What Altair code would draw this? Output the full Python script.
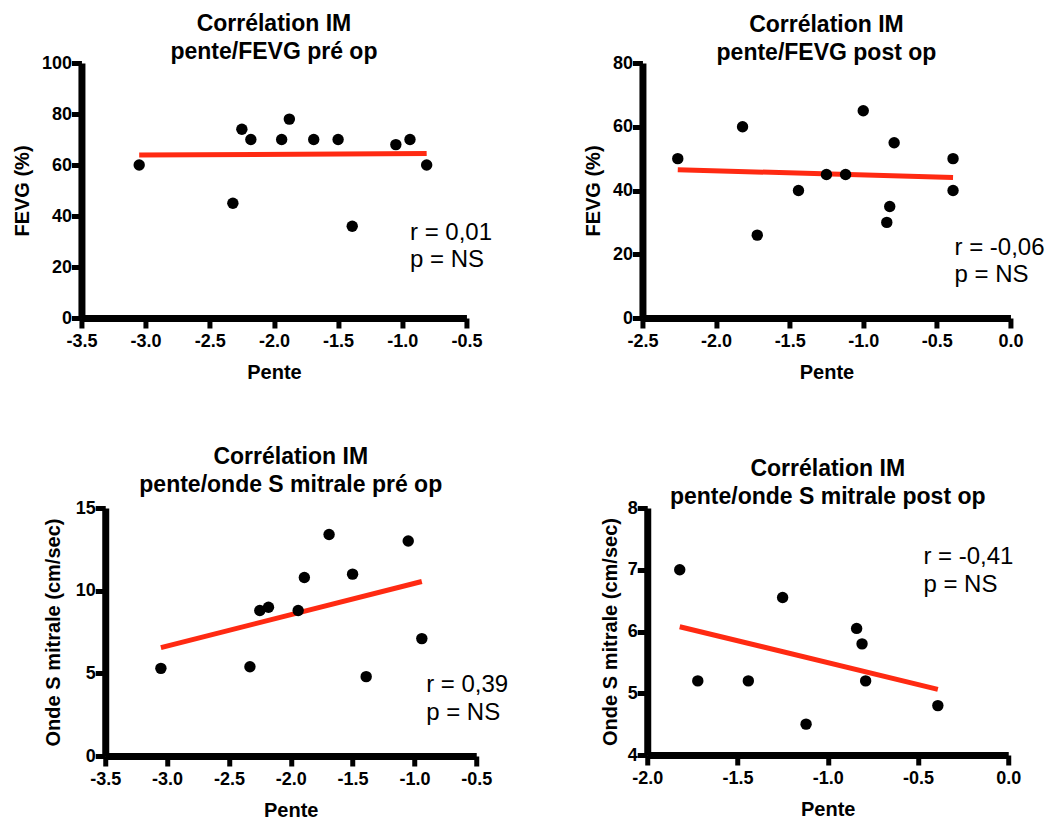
import altair as alt
import pandas as pd

FONT = "Liberation Sans"
RED = "#ff2a12"

# ---------------- data ----------------
# Panel 1: pente vs FEVG pre op
p1_pente = [-3.05, -2.32, -2.25, -2.18, -1.94, -1.88, -1.69, -1.50, -1.39, -1.05, -0.94, -0.81]
p1_fevg = [60, 45, 74, 70, 70, 78, 70, 70, 36, 68, 70, 60]
# Panel 2: pente vs FEVG post op
p2_pente = [-2.26, -1.82, -1.72, -1.44, -1.25, -1.12, -1.00, -0.84, -0.82, -0.79, -0.39, -0.39]
p2_fevg = [50, 60, 26, 40, 45, 45, 65, 30, 35, 55, 40, 50]
# Panel 3: pente vs onde S mitrale pre op
p3_pente = [-3.05, -2.33, -2.25, -2.18, -1.94, -1.89, -1.69, -1.50, -1.39, -1.05, -0.94]
p3_onde = [5.3, 5.4, 8.8, 9.0, 8.8, 10.8, 13.4, 11.0, 4.8, 13.0, 7.1]
# Panel 4: pente vs onde S mitrale post op
p4_pente = [-1.82, -1.72, -1.44, -1.25, -1.12, -0.84, -0.81, -0.79, -0.39]
p4_onde = [7.0, 5.2, 5.2, 6.55, 4.5, 6.05, 5.8, 5.2, 4.8]

titles = [
    ["Corrélation IM", "pente/FEVG pré op"],
    ["Corrélation IM", "pente/FEVG post op"],
    ["Corrélation IM", "pente/onde S mitrale pré op"],
    ["Corrélation IM", "pente/onde S mitrale post op"],
]
x_title = "Pente"
y_titles = ["FEVG (%)", "FEVG (%)", "Onde S mitrale (cm/sec)", "Onde S mitrale (cm/sec)"]
stat_lines = [["r = 0,01", "p = NS"], ["r = -0,06", "p = NS"],
              ["r = 0,39", "p = NS"], ["r = -0,41", "p = NS"]]
# where the stat text sits, in data units (x, y of each line's baseline)
stat_x = [-0.94, -0.38, -0.905, -0.47]
stat_y = [[30.5, 20.0], [19.8, 11.3], [3.85, 2.15], [7.09, 6.64]]

x_domains = [[-3.5, -0.5], [-2.5, 0.0], [-3.5, -0.5], [-2.0, 0.0]]
x_ticks = [[-3.5, -3.0, -2.5, -2.0, -1.5, -1.0, -0.5],
           [-2.5, -2.0, -1.5, -1.0, -0.5, 0.0],
           [-3.5, -3.0, -2.5, -2.0, -1.5, -1.0, -0.5],
           [-2.0, -1.5, -1.0, -0.5, 0.0]]
y_domains = [[0, 100], [0, 80], [0, 15], [4, 8]]
y_ticks = [[0, 20, 40, 60, 80, 100], [0, 20, 40, 60, 80], [0, 5, 10, 15], [4, 5, 6, 7, 8]]

xs = [p1_pente, p2_pente, p3_pente, p4_pente]
ys = [p1_fevg, p2_fevg, p3_onde, p4_onde]

# ---------------- layout params ----------------
widths = [385, 368, 371, 361]
heights = [255, 255, 248, 247]
title_offsets = [-10, -11, 2, -10]
ytitle_pad = [9, 9, 12, 7]

XLABEL = "(datum.value < 0 ? '-' : '') + format(abs(datum.value), '.1f')"
AX = dict(domainColor="#000000", domainWidth=7, domainOpacity=1, tickColor="#000000",
          tickWidth=5, tickOpacity=1, tickSize=10, labelFlush=False, grid=False)


def panel(i):
    df = pd.DataFrame({"x": xs[i], "y": ys[i]})
    xenc = alt.X("x:Q", scale=alt.Scale(domain=x_domains[i], nice=False, zero=False),
                 axis=alt.Axis(values=x_ticks[i], title=x_title, labelExpr=XLABEL,
                               titlePadding=12, labelPadding=4, **AX))
    yenc = alt.Y("y:Q", scale=alt.Scale(domain=y_domains[i], nice=False, zero=False),
                 axis=alt.Axis(values=y_ticks[i], title=y_titles[i], format="d",
                               titlePadding=ytitle_pad[i], labelPadding=0, **AX))
    base = alt.Chart(df)
    line = base.transform_regression("x", "y").mark_line(
        color=RED, strokeWidth=5).encode(x=xenc, y=yenc)
    pts = base.mark_circle(size=130, color="black", opacity=1).encode(x=xenc, y=yenc)
    sdf = pd.DataFrame({"x": [stat_x[i]] * 2, "y": stat_y[i], "t": stat_lines[i]})
    txt = alt.Chart(sdf).mark_text(align="left", baseline="alphabetic", font=FONT,
                                   fontSize=24, color="black").encode(
        x=xenc, y=yenc, text="t:N")
    return alt.layer(line, pts, txt).properties(
        width=widths[i], height=heights[i],
        title=alt.TitleParams(text=titles[i], font=FONT, fontSize=23, fontWeight="bold",
                              lineHeight=28, anchor="middle", offset=title_offsets[i],
                              color="black"))


row1 = alt.concat(panel(0), panel(1), columns=2, spacing=90,
                  align={"row": "none", "column": "none"})
row2 = alt.concat(panel(2), panel(3), columns=2, spacing=91,
                  align={"row": "each", "column": "none"})

chart = alt.vconcat(row1, row2, spacing=64, center=True).properties(
    padding={"left": 12, "top": 13, "right": 5, "bottom": 2}
).configure_view(stroke=None).configure_axis(
    domainColor="#000000", domainWidth=7, tickColor="#000000", tickWidth=5, tickSize=10,
    labelFont=FONT, labelFontSize=18, labelFontWeight="bold", labelColor="black",
    titleFont=FONT, titleFontSize=20, titleFontWeight="bold", titleColor="black",
)

chart.save("out.html", embed_options={"renderer": "svg", "actions": False})
